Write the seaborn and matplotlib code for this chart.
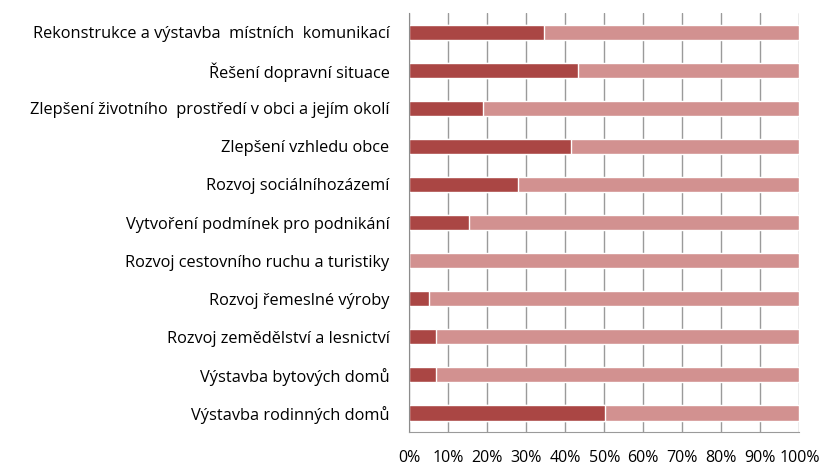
import pandas as pd
import matplotlib.pyplot as plt
import seaborn as sns

categories = [
    "Rekonstrukce a výstavba  místních  komunikací",
    "Řešení dopravní situace",
    "Zlepšení životního  prostředí v obci a jejím okolí",
    "Zlepšení vzhledu obce",
    "Rozvoj sociálníhozázemí",
    "Vytvoření podmínek pro podnikání",
    "Rozvoj cestovního ruchu a turistiky",
    "Rozvoj řemeslné výroby",
    "Rozvoj zemědělství a lesnictví",
    "Výstavba bytových domů",
    "Výstavba rodinných domů",
]
share = [34.6, 43.4, 18.9, 41.4, 27.8, 15.4, 0.0, 5.2, 6.9, 6.9, 50.2]
total = [100] * len(categories)
ticks = [0, 10, 20, 30, 40, 50, 60, 70, 80, 90, 100]

df = pd.DataFrame({"cat": categories, "share": share, "total": total})

sns.set_style("white")
plt.rcParams['font.family'] = ['Open Sans', 'DejaVu Sans']

fig = plt.figure(figsize=(8.27, 4.67), dpi=100)
ax = fig.add_axes([0.4946, 0.075, 0.472, 0.897])

# light bar = whole 100 %, dark bar drawn over it
sns.barplot(data=df, y="cat", x="total", color="#D29190", width=0.4,
            saturation=1, ax=ax, orient="h")
sns.barplot(data=df, y="cat", x="share", color="#AA4644", width=0.4,
            saturation=1, ax=ax, orient="h")

ax.set_xlim(0, 100)
ax.set_ylim(len(categories) - 0.5, -0.5)
ax.set_xticks(ticks)
ax.set_xticklabels([f"{t}%" for t in ticks])
ax.xaxis.grid(True, color="#9a9a9a", linewidth=1.0)
ax.set_axisbelow(True)
ax.set_xlabel("")
ax.set_ylabel("")
for s in ["top", "right"]:
    ax.spines[s].set_visible(False)
ax.spines["left"].set_color("#8c8c8c")
ax.spines["bottom"].set_color("#9a9a9a")
ax.tick_params(axis="y", length=0, pad=14, labelsize=11.8, labelcolor="black")
ax.tick_params(axis="x", length=0, pad=13, labelsize=11.5, labelcolor="black")

fig.savefig("out.png", dpi=100)
